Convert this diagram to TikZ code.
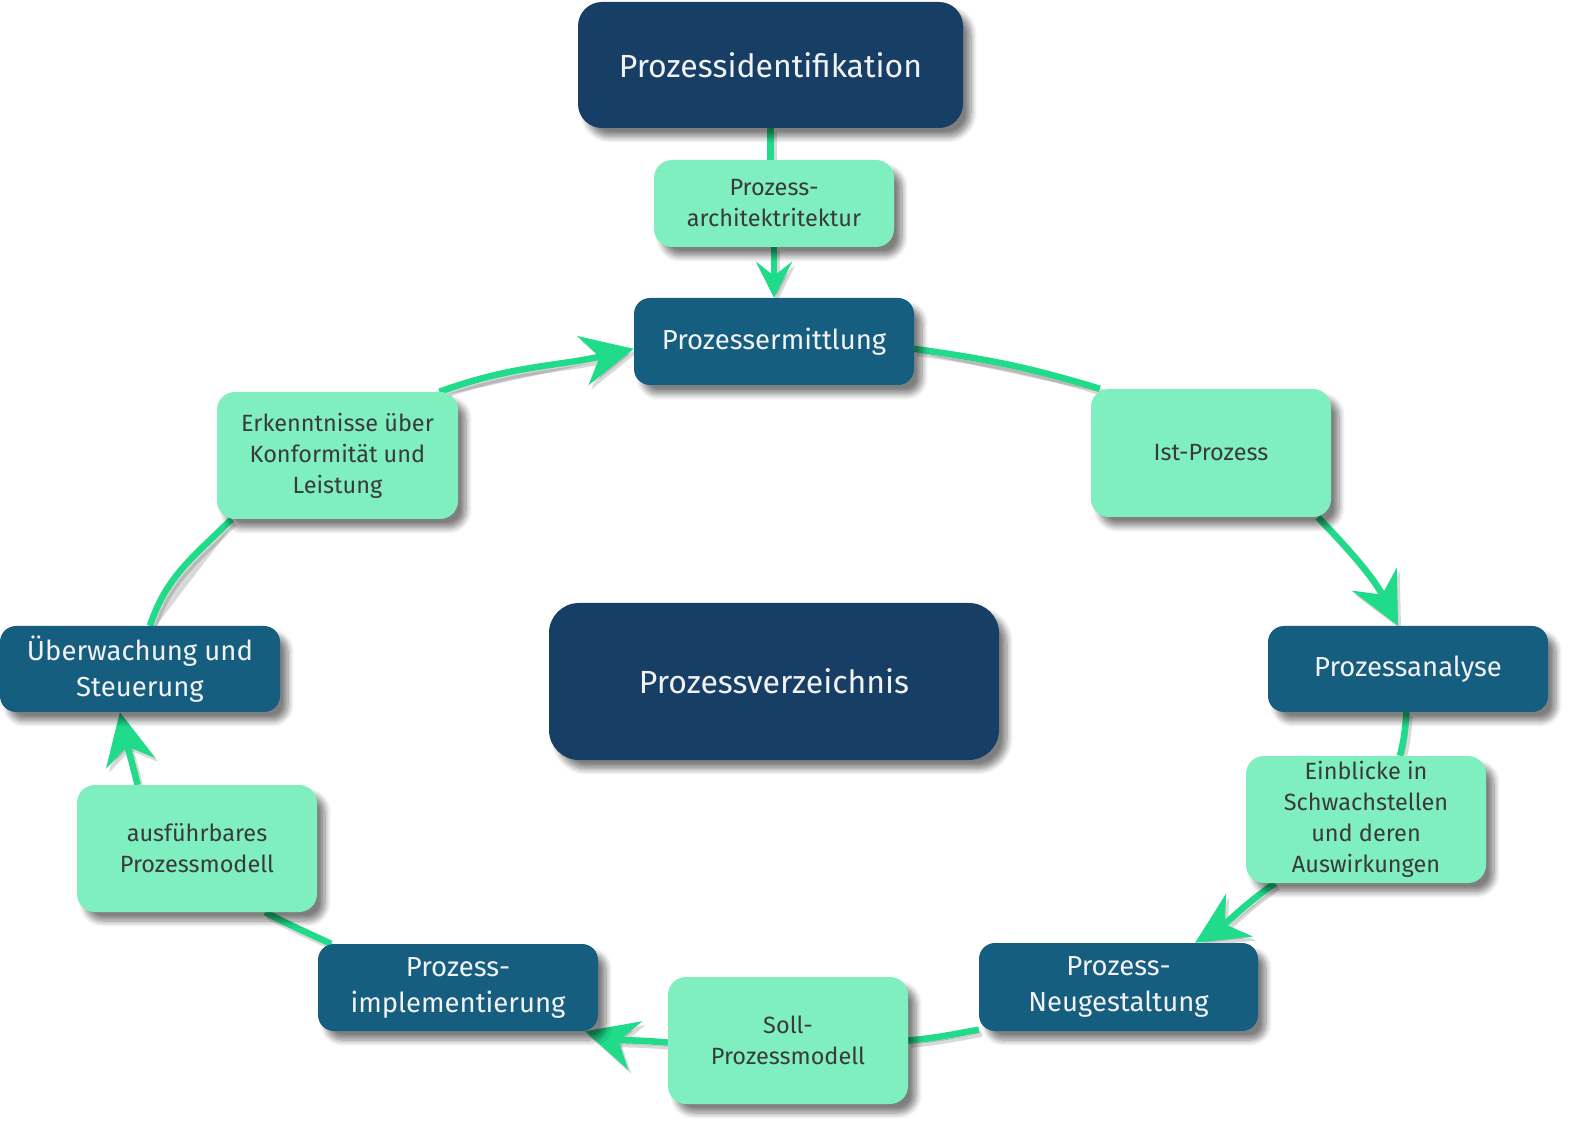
\documentclass[tikz,border=0pt]{standalone}
\usepackage{fontspec}
\setmainfont{Fira Sans}
\usetikzlibrary{arrows.meta,shadows.blur,backgrounds}
\definecolor{navy}{HTML}{173F66}
\definecolor{procblue}{HTML}{165E80}
\definecolor{mint}{HTML}{80EFC0}
\definecolor{flowgreen}{HTML}{1FDB8A}
\definecolor{darktext}{HTML}{3A3A3A}
\definecolor{lighttext}{HTML}{F2F2F2}
\begin{document}
\begin{tikzpicture}[x=1pt,y=1pt,
  base/.style={inner sep=0pt, align=center,
    blur shadow={shadow xshift=8pt, shadow yshift=-9pt, shadow blur radius=6pt, shadow blur steps=8, shadow opacity=50}},
  mainbox/.style={base, fill=navy, text=lighttext, rounded corners=24pt, font=\fontsize{32}{38}\selectfont},
  phase/.style={base, fill=procblue, text=lighttext, rounded corners=16pt, minimum width=280pt, minimum height=87pt, font=\fontsize{27.5}{36}\selectfont},
  result/.style={base, fill=mint, text=darktext, rounded corners=18pt, minimum width=240pt, minimum height=127pt, font=\fontsize{23.5}{31}\selectfont},
  flow/.style={draw=flowgreen, line width=6.5pt,
    preaction={draw=black, fill=black, opacity=0.15, line width=6.5pt, transform canvas={shift={(3pt,-4pt)}}}},
  arrowflow/.style={flow, -{Stealth[length=52pt,width=50pt,inset=17pt]}},
  smallarrow/.style={flow, -{Stealth[length=36pt,width=36pt,inset=14pt]}}
]
\useasboundingbox (0,0) rectangle (1570,1125);

\node[mainbox, minimum width=385pt, minimum height=126pt] (ident) at (770.5,1060) {Prozessidentifikation};
\node[result, minimum height=87pt] (arch) at (774,921.5) {Prozess-\\architektritektur};
\node[phase] (erm) at (774,783.5) {Prozessermittlung};
\node[result, minimum height=128pt] (ist) at (1211,672) {Ist-Prozess};
\node[phase, minimum height=86pt] (ana) at (1408,456) {Prozessanalyse};
\node[result] (einb) at (1366,305.5) {Einblicke in\\Schwachstellen\\und deren\\Auswirkungen};
\node[phase, minimum width=279pt, minimum height=88pt] (neu) at (1118.5,138) {Prozess-\\Neugestaltung};
\node[result] (soll) at (788,84.5) {Soll-\\Prozessmodell};
\node[phase] (impl) at (458,137.5) {Prozess-\\implementierung};
\node[result] (ausf) at (197,276.5) {ausführbares\\Prozessmodell};
\node[phase, minimum height=86pt] (ueb) at (140,456) {Überwachung und\\Steuerung};
\node[result, minimum width=241pt] (erk) at (337.5,669.5) {Erkenntnisse über\\Konformität und\\Leistung};
\node[mainbox, minimum width=450pt, minimum height=157pt, rounded corners=30pt] (verz) at (774,443.5) {Prozessverzeichnis};

\begin{scope}[on background layer]
\draw[flow] (ident.south) -- (ident.south |- arch.north);
\draw[smallarrow] (arch.south) -- (erm.north);
\draw[flow] (erm.-3) to[out=-8,in=163] (ist.150);
\draw[arrowflow] (ist.-31) to[out=-46,in=117] (ana.103);
\draw[flow] (ana.-92) to[out=-95,in=75] (einb.62);
\draw[arrowflow] (einb.-145) to[out=-145,in=32] (neu.30);
\draw[flow] (neu.-163) to[out=-170,in=5] (soll.0);
\draw[arrowflow] (soll.181) to[out=175,in=-16] (impl.-19);
\draw[flow] (impl.161) to[out=155,in=-28] (ausf.-43);
\draw[arrowflow] (ausf.133) to[out=104,in=-78] (ueb.-115);
\draw[flow] (ueb.77) to[out=72,in=-135] (erk.-149);
\draw[arrowflow] (erk.32) to[out=20,in=-167] (erm.-177);
\end{scope}
\end{tikzpicture}
\end{document}
